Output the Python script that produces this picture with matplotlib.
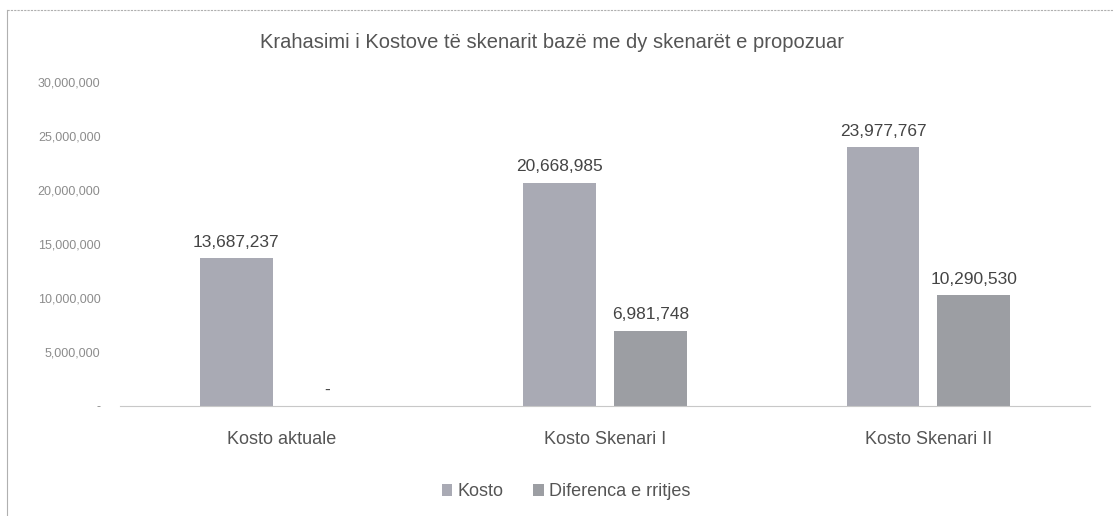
import matplotlib
matplotlib.use("Agg")
import matplotlib.pyplot as plt
from matplotlib.ticker import FuncFormatter
import numpy as np

plt.rcParams['font.family'] = ['Liberation Sans', 'DejaVu Sans']

categories = ["Kosto aktuale", "Kosto Skenari I", "Kosto Skenari II"]
kosto = [13687237, 20668985, 23977767]
diferenca = [0, 6981748, 10290530]
series_names = ["Kosto", "Diferenca e rritjes"]
yticks = [0, 5000000, 10000000, 15000000, 20000000, 25000000, 30000000]

fig = plt.figure(figsize=(11.13, 5.16), dpi=100)
ax = fig.add_axes([120/1113, 1-406/516, 970/1113, (406-82)/516])

x = np.arange(len(categories))
w = 0.225
off = 0.14
c1, c2 = "#a9aab4", "#9c9ea3"
b1 = ax.bar(x - off, kosto, w, color=c1, label=series_names[0])
b2 = ax.bar(x + off, diferenca, w, color=c2, label=series_names[1])

def fmt(v):
    return "-" if v == 0 else f"{v:,.0f}"

for bars, vals in ((b1, kosto), (b2, diferenca)):
    for r, v in zip(bars, vals):
        ax.annotate(fmt(v), (r.get_x() + r.get_width()/2, v), xytext=(0, 6),
                    textcoords="offset points", ha="center", va="bottom",
                    fontsize=12.5, color="#444444")

ax.set_xlim(-0.5, 2.5)
ax.set_ylim(0, 30000000)
ax.set_yticks(yticks)
ax.yaxis.set_major_formatter(FuncFormatter(lambda v, p: "-" if v == 0 else f"{v:,.0f}"))
ax.tick_params(axis="y", length=0, labelsize=9, labelcolor="#8c8c8c", pad=14)
ax.set_xticks(x)
ax.set_xticklabels(categories)
ax.tick_params(axis="x", length=0, labelsize=13, labelcolor="#555555", pad=18)
for s in ["top", "right", "left"]:
    ax.spines[s].set_visible(False)
ax.spines["bottom"].set_color("#c8c8c8")
ax.spines["bottom"].set_linestyle((0, (2, 1)))

fig.text(552/1113, 1-42/516, "Krahasimi i Kostove të skenarit bazë me dy skenarët e propozuar",
         ha="center", va="center", fontsize=14.5, color="#555555")

leg = fig.legend(handles=[b1, b2], labels=series_names, loc="center",
                 bbox_to_anchor=(566/1113, 1-492/516), ncol=2, frameon=False,
                 fontsize=13, handlelength=0.6, handleheight=0.6, handletextpad=0.3,
                 columnspacing=1.6)
for t in leg.get_texts():
    t.set_color("#555555")

# chart border (left and top)
fig.add_artist(plt.Line2D([7/1113, 7/1113], [0, 1-10/516], transform=fig.transFigure,
                          color="#b0b0b0", lw=0.8))
fig.add_artist(plt.Line2D([7/1113, 1], [1-10/516, 1-10/516], transform=fig.transFigure,
                          color="#b0b0b0", lw=0.8, linestyle=(0, (2, 1))))

fig.savefig("out.png", dpi=100)
